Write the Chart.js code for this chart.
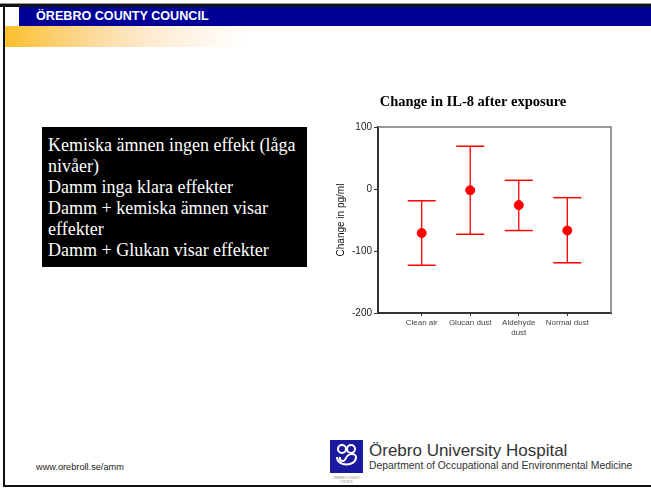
<!DOCTYPE html>
<html>
<head>
<meta charset="utf-8">
<script src="https://cdn.jsdelivr.net/npm/chart.js@4.4.0/dist/chart.umd.min.js"></script>
<style>
  html, body { margin: 0; padding: 0; background: #fff; }
  body { width: 651px; height: 490px; position: relative; overflow: hidden; font-family: Arial, "Liberation Sans", sans-serif; }
  .topline { position: absolute; left: 0; top: 3px; width: 651px; height: 1px; background: #999; }
  .topblack { position: absolute; left: 0; top: 4px; width: 651px; height: 3px; background: #111; }
  .leftborder { position: absolute; left: 3px; top: 4px; width: 2px; height: 483px; background: #111; }
  .bottomborder { position: absolute; left: 3px; top: 485px; width: 648px; height: 2px; background: #111; }
  .bluebar { position: absolute; left: 19px; top: 7px; width: 632px; height: 19px; background: #000099; }
  .bluebar span { position: absolute; left: 17px; top: 2px; color: #fff; font-weight: bold; font-size: 12.6px; }
  .orange { position: absolute; left: 5px; top: 26px; width: 240px; height: 21px;
            background: linear-gradient(to right, #fbc02d 0%, #fcd58a 30%, #fdebd0 60%, #ffffff 100%); }
  .textbox { position: absolute; left: 42px; top: 127px; width: 265px; height: 140px; background: #000;
             color: #fff; font-family: "Liberation Serif", "Times New Roman", serif; font-size: 18px; line-height: 21px;
             box-sizing: border-box; padding: 8px 0 0 6px; white-space: nowrap; }
  #wrap { position: absolute; left: 335px; top: 90px; width: 285px; height: 260px; }
  .url { position: absolute; left: 36px; top: 462px; font-size: 9.2px; color: #222; }
  .logo { position: absolute; left: 330px; top: 440px; width: 33px; height: 33px; background: #1a1aa0; }
  .logosub { position: absolute; left: 330px; top: 476px; width: 33px; font-size: 3px; color: #888; text-align: center; line-height: 4px; }
  .hosp { position: absolute; left: 369px; top: 441px; font-size: 17px; color: #333; }
  .dept { position: absolute; left: 369px; top: 460px; font-size: 10.4px; color: #333; }
</style>
</head>
<body>
<div class="topline"></div>
<div class="topblack"></div>
<div class="leftborder"></div>
<div class="bottomborder"></div>
<div class="bluebar"><span>ÖREBRO COUNTY COUNCIL</span></div>
<div class="orange"></div>

<div class="textbox">Kemiska ämnen ingen effekt (låga<br>nivåer)<br>Damm inga klara effekter<br>Damm + kemiska ämnen visar<br>effekter<br>Damm + Glukan visar effekter</div>

<div id="wrap"><canvas id="chart"></canvas></div>

<div class="url">www.orebroll.se/amm</div>
<div class="logo">
  <svg width="33" height="33" viewBox="0 0 33 33">
    <g fill="none" stroke="#fff" stroke-width="2">
      <circle cx="12" cy="9" r="4"/>
      <circle cx="21" cy="9" r="4"/>
      <path d="M7 17 C 7 27, 26 27, 26 17 C 26 13, 18 13, 16 18 C 14 23, 9 21, 10 17"/>
    </g>
  </svg>
</div>
<div class="logosub">ÖREBRO COUNTY<br>COUNCIL</div>
<div class="hosp">Örebro University Hospital</div>
<div class="dept">Department of Occupational and Environmental Medicine</div>

<script>
const categories = ['Clean air', 'Glucan dust', ['Aldehyde', 'dust'], 'Normal dust'];
const means = [-71, -2, -26, -67];
const upper = [-19, 69, 14, -14];
const lower = [-123, -73, -67, -119];
const yTicks = [-200, -100, 0, 100];

const red = '#ff0000';

// vertical whiskers, separated by gaps
const whiskers = [];
categories.forEach((c, i) => {
    whiskers.push({x: i + 1, y: lower[i]}, {x: i + 1, y: upper[i]}, {x: i + 1, y: null});
});
const caps = [];
categories.forEach((c, i) => {
    caps.push({x: i + 1, y: lower[i]}, {x: i + 1, y: upper[i]});
});
const meanPts = means.map((m, i) => ({x: i + 1, y: m}));

const frame = {
    id: 'frame',
    afterDatasetsDraw(chart) {
        const {ctx, chartArea: a} = chart;
        ctx.save();
        ctx.strokeStyle = '#777';
        ctx.lineWidth = 1.5;
        ctx.beginPath();
        ctx.moveTo(a.left, a.top);
        ctx.lineTo(a.right, a.top);
        ctx.lineTo(a.right, a.bottom);
        ctx.stroke();
        ctx.restore();
    }
};

new Chart(document.getElementById('chart'), {
    type: 'scatter',
    data: {
        datasets: [
            {
                type: 'line',
                data: whiskers,
                borderColor: red,
                borderWidth: 1.3,
                pointRadius: 0,
                spanGaps: false
            },
            {
                data: caps,
                pointStyle: 'line',
                pointRadius: 14,
                borderColor: red,
                borderWidth: 1.5
            },
            {
                data: meanPts,
                pointStyle: 'circle',
                pointRadius: 4.5,
                backgroundColor: red,
                borderColor: red
            }
        ]
    },
    options: {
        responsive: true,
        maintainAspectRatio: false,
        animation: false,
        layout: {autoPadding: false, padding: {left: 0, right: 9, top: 0, bottom: 0}},
        plugins: {
            legend: {display: false},
            tooltip: {enabled: false},
            title: {
                display: true,
                text: 'Change in IL-8 after exposure',
                color: '#000',
                font: {family: '"Liberation Serif", "Times New Roman", serif', size: 14.5, weight: 'bold'},
                padding: {top: 4, bottom: 15.6}
            }
        },
        scales: {
            x: {
                type: 'linear',
                min: 0.1,
                max: 4.9,
                afterBuildTicks(scale) {
                    scale.ticks = categories.map((c, i) => ({value: i + 1}));
                },
                afterFit(scale) {
                    scale.height = 37;
                    scale.paddingLeft = 0;
                    scale.paddingRight = 0;
                },
                ticks: {
                    callback: (v) => categories[v - 1],
                    color: '#444',
                    font: {family: 'Arial, "Liberation Sans", sans-serif', size: 8},
                    padding: 2,
                    maxRotation: 0,
                    autoSkip: false
                },
                grid: {drawOnChartArea: false, tickLength: 3, color: '#333'},
                border: {color: '#333', width: 2}
            },
            y: {
                min: -200,
                max: 100,
                afterBuildTicks(scale) {
                    scale.ticks = yTicks.map(v => ({value: v}));
                },
                afterFit(scale) { scale.width = 43; },
                ticks: {
                    color: '#222',
                    font: {family: 'Arial, "Liberation Sans", sans-serif', size: 10},
                    padding: 2
                },
                grid: {drawOnChartArea: false, tickLength: 4, color: '#333'},
                border: {color: '#333', width: 2},
                title: {
                    display: true,
                    text: 'Change in pg/ml',
                    color: '#111',
                    font: {family: 'Arial, "Liberation Sans", sans-serif', size: 10},
                    padding: {top: 0, bottom: 0}
                }
            }
        }
    },
    plugins: [frame]
});
</script>
</body>
</html>
